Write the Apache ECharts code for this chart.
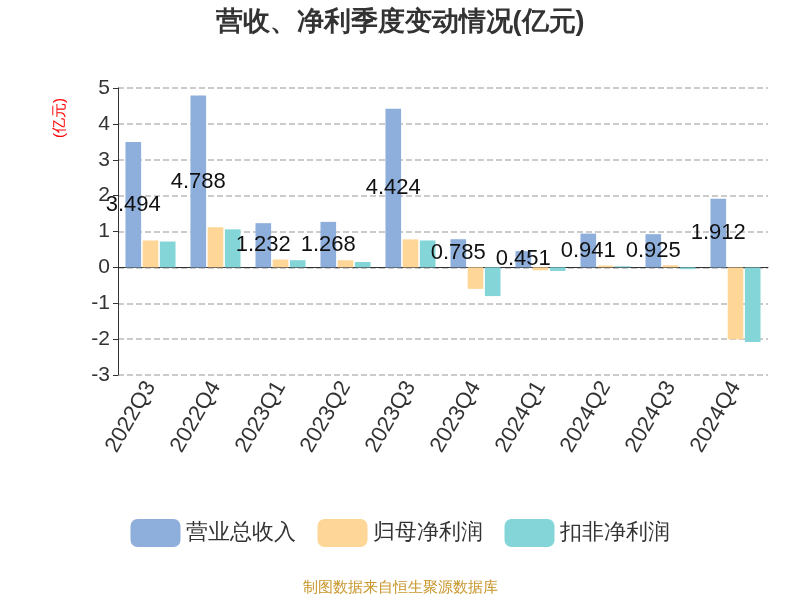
<!DOCTYPE html>
<html>
<head>
<meta charset="utf-8">
<script src="https://cdn.jsdelivr.net/npm/echarts@6/dist/echarts.min.js"></script>
<style>html,body{margin:0;padding:0;}#main{width:800px;height:600px;}</style>
</head>
<body>
<div id="main"></div>
<script>
var categories = ['2022Q3', '2022Q4', '2023Q1', '2023Q2', '2023Q3', '2023Q4', '2024Q1', '2024Q2', '2024Q3', '2024Q4'];
var revenue = [3.494, 4.788, 1.232, 1.268, 4.424, 0.785, 0.451, 0.941, 0.925, 1.912];
var netProfit = [0.75, 1.12, 0.22, 0.20, 0.78, -0.60, -0.08, 0.05, 0.06, -2.00];
var deductedProfit = [0.72, 1.06, 0.20, 0.15, 0.75, -0.80, -0.10, 0.03, -0.05, -2.08];

var myChart = echarts.init(document.getElementById('main'));
var option = {
    title: {
        text: '营收、净利季度变动情况(亿元)',
        left: 'center',
        top: 4,
        textStyle: {fontSize: 27, fontWeight: 'bold', color: '#333'}
    },
    legend: {
        bottom: 48,
        itemWidth: 50,
        itemHeight: 28,
        itemGap: 22,
        textStyle: {fontSize: 22, color: '#333'},
        data: ['营业总收入', '归母净利润', '扣非净利润']
    },
    graphic: [{
        type: 'text',
        left: 'center',
        top: 580,
        style: {text: '制图数据来自恒生聚源数据库', fill: '#c8962a', fontSize: 15}
    }, {
        type: 'text',
        x: 52,
        y: 138,
        rotation: Math.PI / 2,
        style: {text: '(亿元)', fill: 'red', fontSize: 15}
    }],
    grid: {left: 118, right: 32, top: 88, bottom: 225},
    xAxis: {
        type: 'category',
        data: categories,
        axisLine: {lineStyle: {color: '#333'}},
        axisTick: {lineStyle: {color: '#333'}},
        axisLabel: {rotate: 60, fontSize: 22, color: '#333', interval: 0}
    },
    yAxis: {
        type: 'value',
        min: -3,
        max: 5,
        interval: 1,
        axisLine: {show: true, lineStyle: {color: '#333'}},
        axisTick: {show: true},
        axisLabel: {fontSize: 21, color: '#333'},
        splitLine: {lineStyle: {type: 'dashed', color: '#bbb', width: 1.5}}
    },
    series: [
        {
            name: '营业总收入',
            type: 'bar',
            data: revenue,
            itemStyle: {color: '#8eaedc'},
            label: {show: true, position: 'inside', color: '#111', fontSize: 22}
        },
        {
            name: '归母净利润',
            type: 'bar',
            data: netProfit,
            itemStyle: {color: '#fdd698'}
        },
        {
            name: '扣非净利润',
            type: 'bar',
            data: deductedProfit,
            itemStyle: {color: '#84d5d8'}
        }
    ]
};
myChart.setOption(option);
</script>
</body>
</html>
